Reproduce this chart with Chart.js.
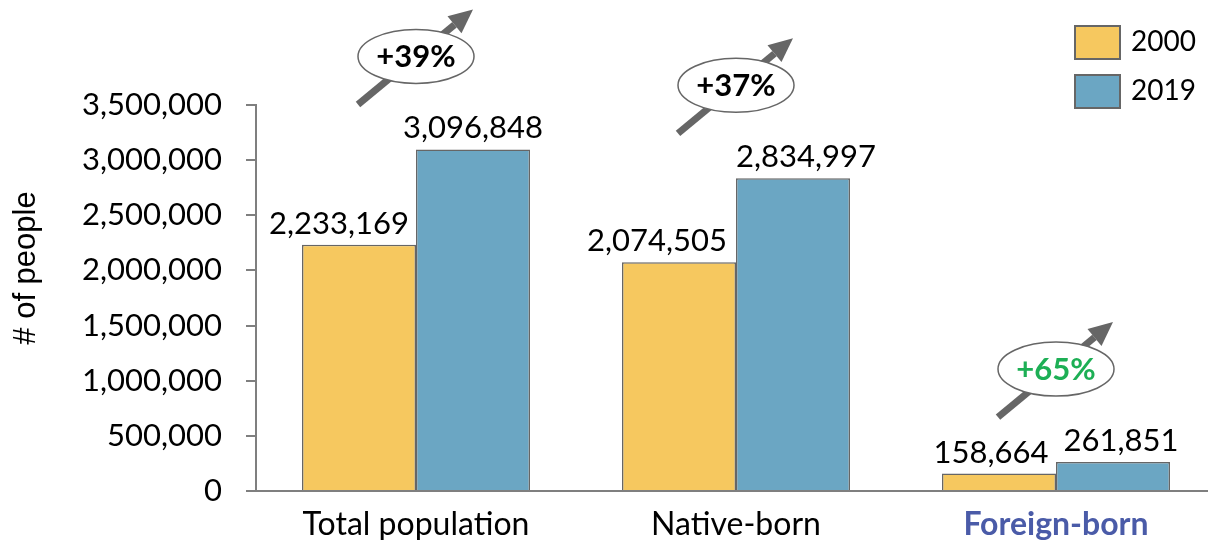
<!DOCTYPE html>
<html>
<head>
<meta charset="utf-8">
<script src="https://cdn.jsdelivr.net/npm/chart.js@4"></script>
<style>
html, body { margin: 0; padding: 0; background: #fff; overflow: hidden; }
canvas { display: block; }
</style>
</head>
<body>
<canvas id="popChart" width="1216" height="540"></canvas>
<script>
var categories = ['Total population', 'Native-born', 'Foreign-born'];
var years = ['2000', '2019'];
var pop2000 = [2233169, 2074505, 158664];
var pop2019 = [3096848, 2834997, 261851];
var yMax = 3500000;
var yStep = 500000;
var yTitle = '# of people';

var FONT = 'Lato, "Open Sans", sans-serif';
var yellow = '#F6C85F';
var blue = '#6BA6C3';
var edge = '#666666';

function fmt(v) { return v.toLocaleString('en-US'); }

// value labels above bars (small horizontal nudges like the original)
var valueLabels = {
  id: 'valueLabels',
  afterDatasetsDraw: function(chart) {
    var ctx = chart.ctx;
    var shift = [[-20, -22, -8], [0, 13, 8]];
    ctx.save();
    ctx.font = '31px ' + FONT;
    ctx.fillStyle = '#000';
    ctx.textAlign = 'center';
    ctx.textBaseline = 'alphabetic';
    chart.data.datasets.forEach(function(ds, di) {
      chart.getDatasetMeta(di).data.forEach(function(bar, i) {
        ctx.fillText(fmt(ds.data[i]), bar.x + shift[di][i], bar.y - 11);
      });
    });
    ctx.restore();
  }
};

// "+xx%" bubbles with arrows
var growthBubbles = {
  id: 'growthBubbles',
  afterDatasetsDraw: function(chart) {
    var ctx = chart.ctx;
    var bars = chart.getDatasetMeta(1).data;
    ctx.save();
    bars.forEach(function(bar, i) {
      var pct = Math.round((pop2019[i] / pop2000[i] - 1) * 100);
      var cx = chart.scales.x.getPixelForValue(i);
      var cy = bar.y - 93;
      // arrow
      var x0 = cx - 58, y0 = cy + 48, x1 = cx + 57, y1 = cy - 47;
      var ang = Math.atan2(y1 - y0, x1 - x0);
      var hl = 24, hw = 11;
      var bx = x1 - hl * Math.cos(ang), by = y1 - hl * Math.sin(ang);
      ctx.strokeStyle = '#666';
      ctx.lineWidth = 7;
      ctx.beginPath();
      ctx.moveTo(x0, y0);
      ctx.lineTo(bx, by);
      ctx.stroke();
      ctx.fillStyle = '#666';
      ctx.beginPath();
      ctx.moveTo(x1, y1);
      ctx.lineTo(bx + hw * Math.sin(ang), by - hw * Math.cos(ang));
      ctx.lineTo(bx - hw * Math.sin(ang), by + hw * Math.cos(ang));
      ctx.closePath();
      ctx.fill();
      // ellipse
      ctx.beginPath();
      ctx.ellipse(cx, cy, 58, 27, 0, 0, Math.PI * 2);
      ctx.fillStyle = '#fff';
      ctx.fill();
      ctx.lineWidth = 1.5;
      ctx.strokeStyle = '#666';
      ctx.stroke();
      // text
      ctx.font = 'bold 31px ' + FONT;
      ctx.textAlign = 'center';
      ctx.textBaseline = 'middle';
      ctx.fillStyle = i === 2 ? '#1DAF55' : '#000';
      ctx.fillText('+' + pct + '%', cx, cy + 1);
    });
    ctx.restore();
  }
};

// legend in the top right corner + y title (sits above the axis middle)
var boxLegend = {
  id: 'boxLegend',
  afterDraw: function(chart) {
    var ctx = chart.ctx;
    ctx.save();
    chart.data.datasets.forEach(function(ds, di) {
      var y = 26 + di * 49;
      ctx.fillStyle = ds.backgroundColor;
      ctx.fillRect(1075, y, 45, 33);
      ctx.strokeStyle = edge;
      ctx.lineWidth = 2;
      ctx.strokeRect(1075, y, 45, 33);
      ctx.fillStyle = '#000';
      ctx.font = '28px ' + FONT;
      ctx.textAlign = 'left';
      ctx.textBaseline = 'middle';
      ctx.fillText(ds.label, 1131, y + 16);
    });
    ctx.translate(26, 268);
    ctx.rotate(-Math.PI / 2);
    ctx.font = '31px "Liberation Sans", Arial, sans-serif';
    ctx.textAlign = 'center';
    ctx.textBaseline = 'middle';
    ctx.fillStyle = '#000';
    ctx.fillText(yTitle, 0, 0);
    ctx.restore();
  }
};

new Chart(document.getElementById('popChart'), {
  type: 'bar',
  data: {
    labels: categories,
    datasets: [
      { label: years[0], data: pop2000, backgroundColor: yellow, borderColor: edge, borderWidth: 1.5 },
      { label: years[1], data: pop2019, backgroundColor: blue, borderColor: edge, borderWidth: 1.5 }
    ]
  },
  options: {
    responsive: false,
    animation: false,
    categoryPercentage: 0.7125,
    barPercentage: 1,
    layout: { padding: { top: 105, left: 0, right: 0, bottom: 0 } },
    plugins: { legend: { display: false }, tooltip: { enabled: false } },
    scales: {
      x: {
        afterFit: function(s) { s.height = 49; },
        grid: { display: false },
        border: { display: true, color: '#7f7f7f', width: 2 },
        ticks: {
          padding: 6,
          color: function(c) { return c.index === 2 ? '#4A5BA8' : '#000'; },
          font: function(c) { return { family: FONT, size: 32, weight: c.index === 2 ? 'bold' : 'normal' }; }
        }
      },
      y: {
        min: 0,
        max: yMax,
        afterFit: function(s) { s.width = 256; },
        grid: { drawOnChartArea: false, tickLength: 10, color: '#7f7f7f', lineWidth: 2 },
        border: { display: true, color: '#7f7f7f', width: 2 },
        ticks: {
          stepSize: yStep,
          padding: 24,
          color: '#000',
          font: { family: FONT, size: 31 },
          callback: function(v) { return fmt(v); }
        }
      }
    }
  },
  plugins: [valueLabels, growthBubbles, boxLegend]
});
</script>
</body>
</html>
